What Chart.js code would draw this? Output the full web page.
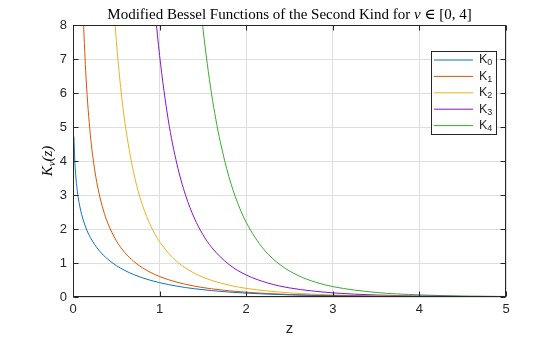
<!DOCTYPE html>
<html>
<head>
<meta charset="utf-8">
<script src="https://cdn.jsdelivr.net/npm/chart.js@4.4.1/dist/chart.umd.min.js"></script>
<style>
  html, body { margin: 0; padding: 0; background: #fff; }
  #wrap { width: 560px; height: 337px; }
</style>
</head>
<body>
<div id="wrap"><canvas id="besselChart"></canvas></div>
<script>
/* ===== DATA ===== */

// K_nu(z), each series on its own z samples
const z0 = [0.01, 0.02, 0.03, 0.05, 0.07, 0.1, 0.15, 0.2, 0.3, 0.4, 0.5, 0.6, 0.7, 0.8, 0.9, 1.0, 1.2, 1.4, 1.6, 1.8, 2.0, 2.5, 3.0, 3.5, 4.0, 4.5, 5.0];
const k0 = [4.721, 4.029, 3.624, 3.114, 2.780, 2.427, 2.030, 1.753, 1.372, 1.115, 0.924, 0.778, 0.661, 0.565, 0.487, 0.421, 0.319, 0.244, 0.188, 0.146, 0.114, 0.0623, 0.0347, 0.0196, 0.0112, 0.0064, 0.0037];

const z1 = [0.1, 0.11, 0.12, 0.15, 0.2, 0.25, 0.3, 0.35, 0.4, 0.5, 0.6, 0.7, 0.8, 0.9, 1.0, 1.2, 1.4, 1.6, 1.8, 2.0, 2.5, 3.0, 3.5, 4.0, 4.5, 5.0];
const k1 = [9.854, 8.936, 8.169, 6.478, 4.776, 3.747, 3.056, 2.559, 2.184, 1.656, 1.303, 1.050, 0.862, 0.717, 0.602, 0.435, 0.321, 0.241, 0.183, 0.140, 0.0739, 0.0402, 0.0222, 0.0125, 0.0071, 0.0040];

const z2 = [0.3, 0.35, 0.4, 0.45, 0.5, 0.55, 0.6, 0.7, 0.8, 0.9, 1.0, 1.2, 1.4, 1.6, 1.8, 2.0, 2.5, 3.0, 3.5, 4.0, 4.5, 5.0];
const k2 = [21.75, 15.86, 12.04, 9.43, 7.550, 6.168, 5.120, 3.661, 2.720, 2.079, 1.625, 1.043, 0.702, 0.489, 0.349, 0.254, 0.1215, 0.0615, 0.0323, 0.0174, 0.0095, 0.0053];

const z3 = [0.8, 0.85, 0.9, 0.95, 1.0, 1.1, 1.2, 1.3, 1.4, 1.5, 1.6, 1.8, 2.0, 2.25, 2.5, 3.0, 3.5, 4.0, 4.5, 5.0];
const k3 = [14.46, 11.96, 9.956, 8.383, 7.101, 5.210, 3.911, 2.992, 2.327, 1.834, 1.463, 0.958, 0.648, 0.411, 0.268, 0.1222, 0.0592, 0.0299, 0.0156, 0.0083];

const z4 = [1.4, 1.45, 1.5, 1.55, 1.6, 1.65, 1.7, 1.8, 1.9, 2.0, 2.2, 2.4, 2.6, 2.8, 3.0, 3.5, 4.0, 4.5, 5.0];
const k4 = [10.67, 9.176, 7.920, 6.867, 5.974, 5.218, 4.572, 3.541, 2.775, 2.196, 1.411, 0.933, 0.631, 0.436, 0.306, 0.1337, 0.0622, 0.0303, 0.0153];

const seriesNames = ['K₀', 'K₁', 'K₂', 'K₃', 'K₄'];
const xTicks = [0, 1, 2, 3, 4, 5];
const yTicks = [0, 1, 2, 3, 4, 5, 6, 7, 8];

/* ===== STYLE ===== */

const SANS = '"Liberation Sans", Arial, sans-serif';
const SERIF = '"Liberation Serif", "DejaVu Serif", serif';
const AXIS_COLOR = '#262626';
const COLORS = ['#1171be', '#dd5400', '#edb120', '#8516d1', '#3baa32'];

function toPoints(zs, ks) {
  return zs.map((z, i) => ({ x: z, y: ks[i] }));
}

const SUB_DIGITS = { '₀': '0', '₁': '1', '₂': '2', '₃': '3', '₄': '4' };

// Frame, inward ticks, title, axis labels and legend, MATLAB style
const decorPlugin = {
  id: 'decor',
  afterDatasetsDraw(chart) {
    const { ctx, chartArea: a, scales: { x, y } } = chart;
    const L = Math.round(a.left) + 0.5, R = Math.round(a.right) - 0.5;
    const T = Math.round(a.top) + 0.5, B = Math.round(a.bottom) - 0.5;
    ctx.save();
    ctx.strokeStyle = AXIS_COLOR;
    ctx.lineWidth = 1;
    ctx.strokeRect(L, T, R - L, B - T);

    const tl = 5;
    ctx.beginPath();
    xTicks.forEach(v => {
      const px = Math.round(x.getPixelForValue(v)) + 0.5;
      ctx.moveTo(px, B); ctx.lineTo(px, B - tl);
      ctx.moveTo(px, T); ctx.lineTo(px, T + tl);
    });
    yTicks.forEach(v => {
      const py = Math.round(y.getPixelForValue(v)) + 0.5;
      ctx.moveTo(L, py); ctx.lineTo(L + tl, py);
      ctx.moveTo(R, py); ctx.lineTo(R - tl, py);
    });
    ctx.stroke();

    // Title with italic nu
    const cx = (a.left + a.right) / 2;
    const parts = [
      { t: 'Modified Bessel Functions of the Second Kind for ', f: '15px ' + SERIF },
      { t: 'ν', f: 'italic 15px ' + SERIF },
      { t: ' ∈ [0, 4]', f: '15px ' + SERIF },
    ];
    let w = 0;
    parts.forEach(p => { ctx.font = p.f; w += ctx.measureText(p.t).width; });
    let tx = cx - w / 2;
    ctx.fillStyle = '#000';
    ctx.textBaseline = 'alphabetic';
    ctx.textAlign = 'left';
    parts.forEach(p => { ctx.font = p.f; ctx.fillText(p.t, tx, 19); tx += ctx.measureText(p.t).width; });

    // x label
    ctx.font = '15px ' + SANS;
    ctx.fillStyle = AXIS_COLOR;
    ctx.textAlign = 'center';
    ctx.fillText('z', cx, 333);

    // y label K_nu(z)
    ctx.save();
    ctx.translate(52, (a.top + a.bottom) / 2);
    ctx.rotate(-Math.PI / 2);
    ctx.fillStyle = '#000';
    const yl = [
      { t: 'K', f: 'italic 15px ' + SERIF, dy: 0 },
      { t: 'ν', f: 'italic 11px ' + SERIF, dy: 3 },
      { t: '(z)', f: 'italic 15px ' + SERIF, dy: 0 },
    ];
    let yw = 0;
    yl.forEach(p => { ctx.font = p.f; yw += ctx.measureText(p.t).width; });
    let yx = -yw / 2;
    ctx.textAlign = 'left';
    yl.forEach(p => { ctx.font = p.f; ctx.fillText(p.t, yx, p.dy); yx += ctx.measureText(p.t).width; });
    ctx.restore();

    // Legend box
    const lx = 431.5, ly = 51.5, lw = 65, lh = 83;
    ctx.fillStyle = '#fff';
    ctx.fillRect(lx, ly, lw, lh);
    ctx.strokeStyle = AXIS_COLOR;
    ctx.strokeRect(lx, ly, lw, lh);
    chart.data.datasets.forEach((ds, i) => {
      const ry = 60 + i * 16.4;
      ctx.strokeStyle = ds.borderColor;
      ctx.lineWidth = 1;
      ctx.beginPath();
      ctx.moveTo(434, ry); ctx.lineTo(473, ry);
      ctx.stroke();
      ctx.fillStyle = AXIS_COLOR;
      ctx.textAlign = 'left';
      ctx.textBaseline = 'middle';
      ctx.font = '12.5px ' + SANS;
      const base = ds.label.slice(0, 1);
      ctx.fillText(base, 479, ry);
      const bw = ctx.measureText(base).width;
      ctx.font = '9px ' + SANS;
      ctx.fillText(SUB_DIGITS[ds.label.slice(1)] || ds.label.slice(1), 479 + bw, ry + 3);
    });
    ctx.restore();
  }
};

/* ===== CHART ===== */

(function() {
  const ctx = document.getElementById('besselChart');
  const pairs = [[z0, k0], [z1, k1], [z2, k2], [z3, k3], [z4, k4]];

  new Chart(ctx, {
    type: 'line',
    data: {
      datasets: pairs.map(([zs, ks], i) => ({
        label: seriesNames[i],
        data: toPoints(zs, ks),
        borderColor: COLORS[i],
        backgroundColor: COLORS[i],
        borderWidth: 1,
        pointRadius: 0,
        fill: false,
        cubicInterpolationMode: 'monotone',
      }))
    },
    options: {
      responsive: true,
      maintainAspectRatio: false,
      animation: false,
      layout: { padding: { left: 0, right: 54, top: 25, bottom: 0 } },
      plugins: {
        legend: { display: false },
        title: { display: false },
        tooltip: { enabled: false }
      },
      scales: {
        x: {
          type: 'linear',
          min: 0,
          max: 5,
          afterBuildTicks(scale) { scale.ticks = xTicks.map(v => ({ value: v })); },
          afterFit(scale) { scale.height = 40; },
          border: { display: false },
          grid: { color: '#dedede', lineWidth: 1, drawTicks: false },
          ticks: {
            font: { family: SANS, size: 13 },
            color: AXIS_COLOR,
            padding: 5,
            maxRotation: 0,
          }
        },
        y: {
          type: 'linear',
          min: 0,
          max: 8,
          afterBuildTicks(scale) { scale.ticks = yTicks.map(v => ({ value: v })); },
          afterFit(scale) { scale.width = 73; },
          border: { display: false },
          grid: { color: '#dedede', lineWidth: 1, drawTicks: false },
          ticks: {
            font: { family: SANS, size: 13 },
            color: AXIS_COLOR,
            padding: 6,
          }
        }
      }
    },
    plugins: [decorPlugin]
  });
})();
</script>
</body>
</html>
